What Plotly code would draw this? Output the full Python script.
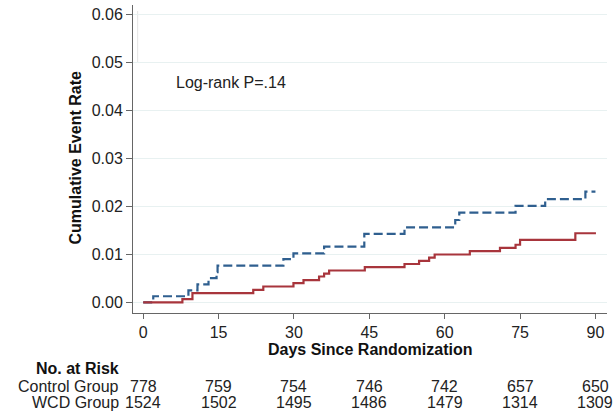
import plotly.graph_objects as go

# ---- data ----
control_days = [0, 2, 9, 10.8, 13, 14.6, 14.8, 27.9, 29.9, 36, 44, 52, 62.1, 62.9, 74.1, 80, 88, 90]
control_rate = [0, 0.00129, 0.00249, 0.00374, 0.00505, 0.0063, 0.00768, 0.0090, 0.0102, 0.0116, 0.01426,
                0.01564, 0.01716, 0.01869, 0.0201, 0.0215, 0.02304, 0.02304]

wcd_days = [0, 7.8, 9.8, 21.9, 23.9, 29.9, 31.9, 35, 36, 37, 44.1, 52, 54.9, 56.9, 58, 65, 71, 74.1, 75, 86, 90.1]
wcd_rate = [0, 0.00069, 0.00194, 0.00263, 0.00332, 0.0040, 0.00464, 0.0054, 0.0060, 0.00664, 0.00734,
            0.0080, 0.00865, 0.00934, 0.00997, 0.01066, 0.01135, 0.0120, 0.0130, 0.0144, 0.0144]

risk_days = [0, 15, 30, 45, 60, 75, 90]
control_at_risk = [778, 759, 754, 746, 742, 657, 650]
wcd_at_risk = [1524, 1502, 1495, 1486, 1479, 1314, 1309]
group_labels = ["Control Group", "WCD Group"]

y_ticks = [0, 0.01, 0.02, 0.03, 0.04, 0.05, 0.06]
x_ticks = [0, 15, 30, 45, 60, 75, 90]

FONT = "Liberation Sans, Arial, Helvetica, sans-serif"
FS = 16
BLUE = "#2f5f8f"
RED = "#a8353c"

fig = go.Figure()
fig.add_trace(go.Scatter(x=control_days, y=control_rate, mode="lines", line_shape="hv",
                         line=dict(color=BLUE, width=2.2, dash="9px,4px"), name="Control Group"))
fig.add_trace(go.Scatter(x=wcd_days, y=wcd_rate, mode="lines", line_shape="hv",
                         line=dict(color=RED, width=2.2), name="WCD Group"))

# plot-area pixel geometry helpers
W, H = 616, 413
ML, MR, MT, MB = 133, 9, 5, 100
plot_h = H - MT - MB


def py(p):  # pixel y -> paper y
    return (H - MB - p) / plot_h


def px(p):  # pixel x -> paper x
    return (p - ML) / (W - ML - MR)


annotations = [
    dict(text="Log-rank P=.14", x=6.1, y=0.0457, xref="x", yref="y", xanchor="left", yanchor="middle",
         showarrow=False, font=dict(size=FS, color="#222")),
    dict(text="<b>Days Since Randomization</b>", x=0.5, y=py(349), xref="paper", yref="paper",
         xanchor="center", yanchor="middle", showarrow=False, font=dict(size=FS, color="#111")),
    dict(text="<b>Cumulative Event Rate</b>", x=px(75), y=py(158.5), xref="paper", yref="paper",
         xanchor="center", yanchor="middle", textangle=-90, showarrow=False, font=dict(size=FS, color="#111")),
    dict(text="<b>No. at Risk</b>", x=px(121), y=py(368), xref="paper", yref="paper",
         xanchor="right", yanchor="middle", showarrow=False, font=dict(size=FS, color="#111")),
]
row_y = [py(386.5), py(402.5)]
for lab, yy in zip(group_labels, row_y):
    annotations.append(dict(text=lab, x=px(121), y=yy, xref="paper", yref="paper", xanchor="right",
                            yanchor="middle", showarrow=False, font=dict(size=FS, color="#222")))
for d, c, w in zip(risk_days, control_at_risk, wcd_at_risk):
    annotations.append(dict(text=str(c), x=d, y=row_y[0], xref="x", yref="paper", xanchor="center",
                            yanchor="middle", showarrow=False, font=dict(size=FS, color="#222")))
    annotations.append(dict(text=str(w), x=d, y=row_y[1], xref="x", yref="paper", xanchor="center",
                            yanchor="middle", showarrow=False, font=dict(size=FS, color="#222")))

shapes = [
    # white legend-area box masking the gridlines at top-left
    dict(type="rect", xref="x", yref="paper", x0=-1.1, x1=38.9, y0=py(64), y1=1.0,
         fillcolor="white", line=dict(width=0), layer="between"),
    dict(type="line", xref="x", yref="paper", x0=-1.1, x1=-1.1, y0=py(63), y1=py(11),
         line=dict(color="#e4e4e4", width=1), layer="between"),
]

fig.update_layout(
    width=W, height=H,
    margin=dict(l=ML, r=MR, t=MT, b=MB, pad=0),
    paper_bgcolor="white", plot_bgcolor="white",
    showlegend=False,
    font=dict(family=FONT, size=FS, color="#222"),
    annotations=annotations,
    shapes=shapes,
)
fig.update_xaxes(range=[-2.03, 92.3], tickvals=x_ticks, ticks="outside", ticklen=5, tickcolor="#666",
                 showline=True, linecolor="#666", linewidth=1, showgrid=False, zeroline=False,
                 tickfont=dict(size=FS, color="#222"))
fig.update_yaxes(range=[-0.0022, 0.0619], tickvals=y_ticks, tickformat=".2f", ticks="outside", ticklen=6,
                 tickcolor="#666", showline=True, linecolor="#666", linewidth=1, showgrid=True,
                 gridcolor="#e8f1f1", gridwidth=1, zeroline=False, tickfont=dict(size=FS, color="#222"))

fig.write_html("out.html", config={"displayModeBar": False},
               post_script="document.body.style.margin='0';document.body.style.padding='0';")
